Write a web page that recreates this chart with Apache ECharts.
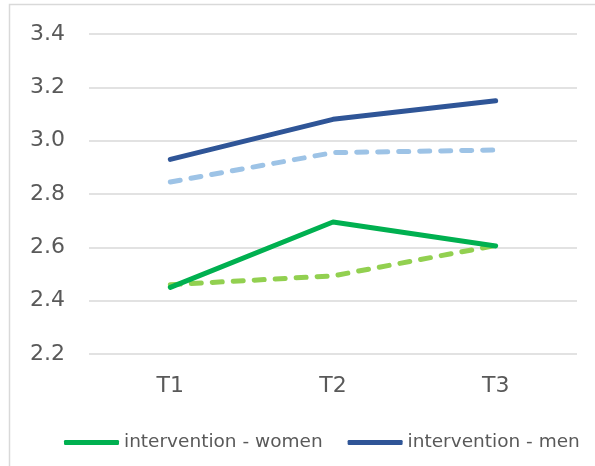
<!DOCTYPE html>
<html>
<head>
<meta charset="utf-8">
<script src="https://cdn.jsdelivr.net/npm/echarts@6/dist/echarts.min.js"></script>
<style>
  html, body { margin: 0; padding: 0; background: #fff; }
  #chart { width: 595px; height: 466px; }
</style>
</head>
<body>
<div id="chart"></div>
<script>
// Measurement points
const timePoints = ['T1', 'T2', 'T3'];

// Mean scores per group
const interventionWomen = [2.45, 2.695, 2.605];
const interventionMen = [2.93, 3.08, 3.15];
const controlWomen = [2.46, 2.493, 2.607];
const controlMen = [2.845, 2.955, 2.965];

// Value axis range
const yMin = 2.2;
const yMax = 3.4;
const yStep = 0.2;

const chart = echarts.init(document.getElementById('chart'), null, { renderer: 'canvas' });

const labelFont = 'DejaVu Sans, Verdana, sans-serif';

chart.setOption({
  animation: false,
  backgroundColor: '#ffffff',
  graphic: [
    {
      type: 'polyline',
      silent: true,
      shape: { points: [[9.5, 470], [9.5, 4.5], [600, 4.5]] },
      style: { stroke: '#d9d9d9', lineWidth: 1.5, fill: null }
    }
  ],
  grid: { left: 89, right: 18, top: 34, bottom: 112 },
  legend: {
    data: ['intervention - women', 'intervention - men'],
    left: 59,
    top: 428,
    icon: 'roundRect',
    itemWidth: 55,
    itemHeight: 5,
    itemGap: 25,
    textStyle: { color: '#595959', fontSize: 18.5, fontFamily: labelFont }
  },
  xAxis: {
    type: 'category',
    data: timePoints,
    boundaryGap: true,
    axisLine: { show: false },
    axisTick: { show: false },
    axisLabel: { color: '#595959', fontSize: 22, fontFamily: labelFont, margin: 21 }
  },
  yAxis: {
    type: 'value',
    min: yMin,
    max: yMax,
    interval: yStep,
    axisLine: { show: false },
    axisTick: { show: false },
    axisLabel: {
      color: '#595959', fontSize: 22, fontFamily: labelFont, margin: 24,
      formatter: v => v.toFixed(1)
    },
    splitLine: { lineStyle: { color: '#d9d9d9', width: 1.5 } }
  },
  series: [
    {
      name: 'control - men',
      type: 'line',
      data: controlMen,
      symbol: 'none',
      lineStyle: { color: '#9dc3e6', width: 5, type: [10, 11], cap: 'round', join: 'round' },
      itemStyle: { color: '#9dc3e6' }
    },
    {
      name: 'control - women',
      type: 'line',
      data: controlWomen,
      symbol: 'none',
      lineStyle: { color: '#92d050', width: 5, type: [10, 11], cap: 'round', join: 'round' },
      itemStyle: { color: '#92d050' }
    },
    {
      name: 'intervention - women',
      type: 'line',
      data: interventionWomen,
      symbol: 'none',
      z: 3,
      lineStyle: { color: '#00b050', width: 5, cap: 'round', join: 'round' },
      itemStyle: { color: '#00b050' }
    },
    {
      name: 'intervention - men',
      type: 'line',
      data: interventionMen,
      symbol: 'none',
      z: 3,
      lineStyle: { color: '#2f5597', width: 5, cap: 'round', join: 'round' },
      itemStyle: { color: '#2f5597' }
    }
  ]
});
</script>
</body>
</html>
